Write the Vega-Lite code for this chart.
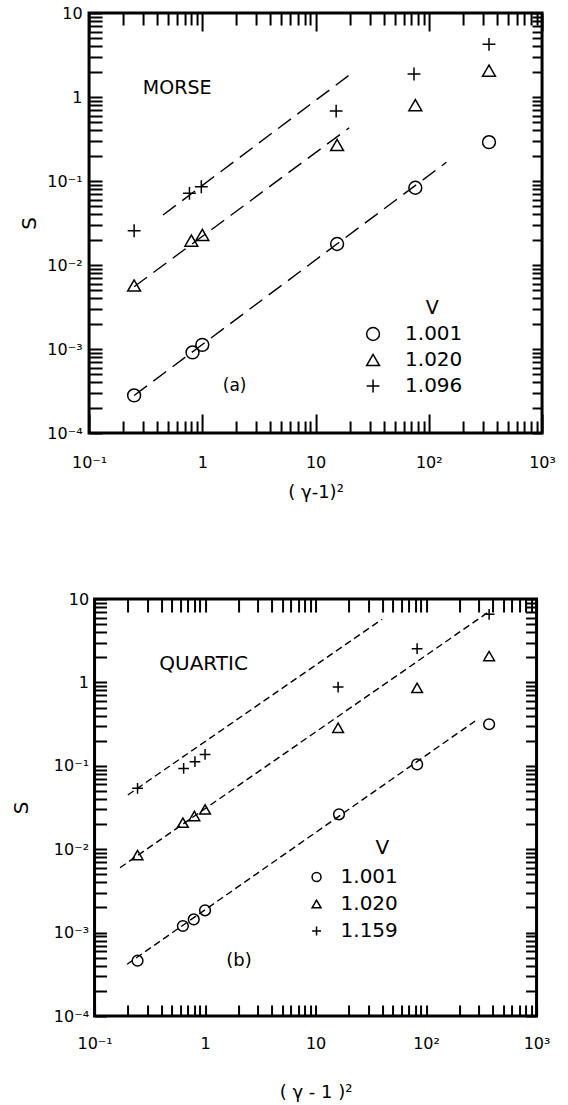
{
  "$schema": "https://vega.github.io/schema/vega-lite/v6.json",
  "background": "white",
  "padding": {"top": 3, "left": 9, "right": 5, "bottom": 0},
  "spacing": 86,
  "columns": 1,
  "align": "each",
  "center": true,
  "config": {
    "font": "DejaVu Sans",
    "view": {"stroke": "black", "strokeWidth": 3},
    "axis": {
      "domain": false,
      "grid": false,
      "zindex": 1,
      "tickColor": "black",
      "tickWidth": 2,
      "labelColor": "black",
      "labelFont": "DejaVu Sans",
      "labelFontSize": 16,
      "labelOverlap": false,
      "labelFlush": false,
      "titleFont": "DejaVu Sans",
      "titleFontSize": 20,
      "titleFontWeight": "normal",
      "titleColor": "black"
    },
    "legend": {
      "padding": 0,
      "labelFont": "DejaVu Sans",
      "labelFontSize": 20,
      "labelColor": "black",
      "symbolStrokeColor": "black",
      "symbolFillColor": "transparent",
      "symbolStrokeWidth": 1.5
    },
    "text": {"font": "DejaVu Sans", "color": "black"}
  },
  "datasets": {
    "morse": [
      {"V": "1.001", "x": 0.25, "S": 0.00028},
      {"V": "1.001", "x": 0.82, "S": 0.00091},
      {"V": "1.001", "x": 1.0, "S": 0.00112},
      {"V": "1.001", "x": 15.5, "S": 0.0178},
      {"V": "1.001", "x": 76, "S": 0.083},
      {"V": "1.001", "x": 340, "S": 0.29},
      {"V": "1.020", "x": 0.25, "S": 0.0057},
      {"V": "1.020", "x": 0.8, "S": 0.0195},
      {"V": "1.020", "x": 1.0, "S": 0.0228},
      {"V": "1.020", "x": 15.5, "S": 0.268},
      {"V": "1.020", "x": 76, "S": 0.8},
      {"V": "1.020", "x": 340, "S": 2.06},
      {"V": "1.096", "x": 0.25, "S": 0.0256},
      {"V": "1.096", "x": 0.77, "S": 0.0713},
      {"V": "1.096", "x": 0.98, "S": 0.0855},
      {"V": "1.096", "x": 15.2, "S": 0.68},
      {"V": "1.096", "x": 74, "S": 1.88},
      {"V": "1.096", "x": 340, "S": 4.24}
    ],
    "morseFits": [
      {"V": "1.001", "x": 0.25, "S": 0.00028},
      {"V": "1.001", "x": 143, "S": 0.167},
      {"V": "1.020", "x": 0.25, "S": 0.0055},
      {"V": "1.020", "x": 19.8, "S": 0.43},
      {"V": "1.096", "x": 0.45, "S": 0.0394},
      {"V": "1.096", "x": 20.9, "S": 1.92}
    ],
    "quartic": [
      {"V": "1.001", "x": 0.245, "S": 0.00046},
      {"V": "1.001", "x": 0.63, "S": 0.0012},
      {"V": "1.001", "x": 0.79, "S": 0.00144},
      {"V": "1.001", "x": 1.0, "S": 0.00185},
      {"V": "1.001", "x": 16.3, "S": 0.0262},
      {"V": "1.001", "x": 83, "S": 0.104},
      {"V": "1.001", "x": 372, "S": 0.315},
      {"V": "1.020", "x": 0.245, "S": 0.0085},
      {"V": "1.020", "x": 0.63, "S": 0.0208},
      {"V": "1.020", "x": 0.8, "S": 0.025},
      {"V": "1.020", "x": 1.0, "S": 0.03},
      {"V": "1.020", "x": 16, "S": 0.286},
      {"V": "1.020", "x": 83, "S": 0.86},
      {"V": "1.020", "x": 372, "S": 2.07},
      {"V": "1.159", "x": 0.245, "S": 0.0537},
      {"V": "1.159", "x": 0.64, "S": 0.093},
      {"V": "1.159", "x": 0.81, "S": 0.112},
      {"V": "1.159", "x": 1.0, "S": 0.137},
      {"V": "1.159", "x": 16, "S": 0.88},
      {"V": "1.159", "x": 83, "S": 2.54},
      {"V": "1.159", "x": 372, "S": 6.56}
    ],
    "quarticFits": [
      {"V": "1.001", "x": 0.197, "S": 0.000417},
      {"V": "1.001", "x": 278, "S": 0.344},
      {"V": "1.020", "x": 0.17, "S": 0.006},
      {"V": "1.020", "x": 379, "S": 7.18},
      {"V": "1.159", "x": 0.2, "S": 0.0447},
      {"V": "1.159", "x": 40, "S": 5.71}
    ],
    "notes": [
      {"panel": "a", "kind": "name", "t": "MORSE", "x": 0.6, "S": 1.28},
      {"panel": "a", "kind": "name", "t": "V", "x": 107, "S": 0.00308},
      {"panel": "a", "kind": "tag", "t": "(a)", "x": 1.93, "S": 0.000363},
      {"panel": "b", "kind": "name", "t": "QUARTIC", "x": 0.97, "S": 1.66},
      {"panel": "b", "kind": "name", "t": "V", "x": 40.3, "S": 0.0104},
      {"panel": "b", "kind": "tag", "t": "(b)", "x": 2.03, "S": 0.000457}
    ]
  },
  "resolve": {
    "scale": {"x": "independent", "y": "independent", "shape": "independent"},
    "legend": {"shape": "independent"}
  },
  "concat": [
    {
      "width": 453,
      "height": 420,
      "resolve": {"axis": {"x": "independent", "y": "independent"}},
      "layer": [
        {
          "data": {"name": "morse"},
          "mark": {"type": "point", "filled": false, "stroke": "black", "strokeWidth": 1.5, "opacity": 1, "size": 165},
          "encoding": {
            "x": {
              "field": "x", "type": "quantitative",
              "scale": {"type": "log", "domain": [0.1, 1000], "nice": false},
              "axis": {
                "orient": "bottom",
                "values": [0.1,0.2,0.3,0.4,0.5,0.6,0.7,0.8,0.9,1,2,3,4,5,6,7,8,9,10,20,30,40,50,60,70,80,90,100,200,300,400,500,600,700,800,900,1000],
                "labelExpr": "datum.value == 0.1 ? '10⁻¹' : datum.value == 1 ? '1' : datum.value == 10 ? '10' : datum.value == 100 ? '10²' : datum.value == 1000 ? '10³' : ''",
                "tickSize": {"condition": {"test": "indexof([0.1, 1, 10, 100, 1000], datum.value) >= 0", "value": -19}, "value": -12},
                "labelPadding": 40,
                "title": "( γ-1)²",
                "titleFontSize": 18,
                "titlePadding": 6
              }
            },
            "y": {
              "field": "S", "type": "quantitative",
              "scale": {"type": "log", "domain": [0.0001, 10], "nice": false},
              "axis": {
                "orient": "left",
                "values": [0.0001,0.0002,0.0003,0.0004,0.0005,0.0006,0.0007,0.0008,0.0009,0.001,0.002,0.003,0.004,0.005,0.006,0.007,0.008,0.009,0.01,0.02,0.03,0.04,0.05,0.06,0.07,0.08,0.09,0.1,0.2,0.3,0.4,0.5,0.6,0.7,0.8,0.9,1,2,3,4,5,6,7,8,9,10],
                "labelExpr": "datum.value == 10 ? '10' : datum.value == 1 ? '1' : datum.value == 0.1 ? '10⁻¹' : datum.value == 0.01 ? '10⁻²' : datum.value == 0.001 ? '10⁻³' : datum.value == 0.0001 ? '10⁻⁴' : ''",
                "tickSize": -13,
                "labelPadding": 20,
                "title": "S",
                "titlePadding": 7
              }
            },
            "shape": {
              "field": "V", "type": "nominal",
              "scale": {"domain": ["1.001", "1.020", "1.096"], "range": ["circle", "triangle-up", "M-1,0H1M0,-1V1"]},
              "legend": {
                "orient": "none", "legendX": 274, "legendY": 311,
                "title": null, "symbolSize": 165, "labelOffset": 22, "rowPadding": 6
              }
            }
          }
        },
        {
          "data": {"name": "morseFits"},
          "mark": {"type": "line", "color": "black", "strokeWidth": 1.4, "strokeDash": [16, 8]},
          "encoding": {
            "x": {
              "field": "x", "type": "quantitative",
              "scale": {"type": "log", "domain": [0.1, 1000], "nice": false},
              "axis": {
                "orient": "top",
                "values": [0.1,0.2,0.3,0.4,0.5,0.6,0.7,0.8,0.9,1,2,3,4,5,6,7,8,9,10,20,30,40,50,60,70,80,90,100,200,300,400,500,600,700,800,900,1000],
                "labels": false,
                "tickSize": {"condition": {"test": "indexof([0.1, 1, 10, 100, 1000], datum.value) >= 0", "value": -18}, "value": -12},
                "title": null
              }
            },
            "y": {
              "field": "S", "type": "quantitative",
              "scale": {"type": "log", "domain": [0.0001, 10], "nice": false},
              "axis": {
                "orient": "right",
                "values": [0.0001,0.0002,0.0003,0.0004,0.0005,0.0006,0.0007,0.0008,0.0009,0.001,0.002,0.003,0.004,0.005,0.006,0.007,0.008,0.009,0.01,0.02,0.03,0.04,0.05,0.06,0.07,0.08,0.09,0.1,0.2,0.3,0.4,0.5,0.6,0.7,0.8,0.9,1,2,3,4,5,6,7,8,9,10],
                "labels": false,
                "tickSize": -10,
                "title": null
              }
            },
            "detail": {"field": "V", "type": "nominal"}
          }
        },
        {
          "data": {"name": "notes"},
          "transform": [{"filter": "datum.panel == 'a' && datum.kind == 'name'"}],
          "mark": {"type": "text", "fontSize": 19, "align": "center", "baseline": "middle"},
          "encoding": {
            "x": {"field": "x", "type": "quantitative", "scale": {"type": "log", "domain": [0.1, 1000], "nice": false}, "axis": null},
            "y": {"field": "S", "type": "quantitative", "scale": {"type": "log", "domain": [0.0001, 10], "nice": false}, "axis": null},
            "text": {"field": "t"}
          }
        },
        {
          "data": {"name": "notes"},
          "transform": [{"filter": "datum.panel == 'a' && datum.kind == 'tag'"}],
          "mark": {"type": "text", "fontSize": 17, "align": "center", "baseline": "middle"},
          "encoding": {
            "x": {"field": "x", "type": "quantitative", "scale": {"type": "log", "domain": [0.1, 1000], "nice": false}, "axis": null},
            "y": {"field": "S", "type": "quantitative", "scale": {"type": "log", "domain": [0.0001, 10], "nice": false}, "axis": null},
            "text": {"field": "t"}
          }
        }
      ]
    },
    {
      "width": 442,
      "height": 417,
      "resolve": {"axis": {"x": "independent", "y": "independent"}},
      "layer": [
        {
          "data": {"name": "quartic"},
          "mark": {"type": "point", "filled": false, "stroke": "black", "strokeWidth": 1.5, "opacity": 1, "size": 115},
          "encoding": {
            "x": {
              "field": "x", "type": "quantitative",
              "scale": {"type": "log", "domain": [0.1, 1000], "nice": false},
              "axis": {
                "orient": "bottom",
                "offset": -11,
                "values": [0.1,0.2,0.3,0.4,0.5,0.6,0.7,0.8,0.9,1,2,3,4,5,6,7,8,9,10,20,30,40,50,60,70,80,90,100,200,300,400,500,600,700,800,900,1000],
                "labelExpr": "datum.value == 0.1 ? '10⁻¹' : datum.value == 1 ? '1' : datum.value == 10 ? '10' : datum.value == 100 ? '10²' : datum.value == 1000 ? '10³' : ''",
                "tickSize": 11,
                "labelPadding": 19,
                "title": "( γ - 1 )²",
                "titleFontSize": 18,
                "titlePadding": 32
              }
            },
            "y": {
              "field": "S", "type": "quantitative",
              "scale": {"type": "log", "domain": [0.0001, 10], "nice": false},
              "axis": {
                "orient": "left",
                "offset": -12,
                "values": [0.0001,0.0002,0.0003,0.0004,0.0005,0.0006,0.0007,0.0008,0.0009,0.001,0.002,0.003,0.004,0.005,0.006,0.007,0.008,0.009,0.01,0.02,0.03,0.04,0.05,0.06,0.07,0.08,0.09,0.1,0.2,0.3,0.4,0.5,0.6,0.7,0.8,0.9,1,2,3,4,5,6,7,8,9,10],
                "labelExpr": "datum.value == 10 ? '10' : datum.value == 1 ? '1' : datum.value == 0.1 ? '10⁻¹' : datum.value == 0.01 ? '10⁻²' : datum.value == 0.001 ? '10⁻³' : datum.value == 0.0001 ? '10⁻⁴' : ''",
                "tickSize": 12,
                "labelPadding": 6,
                "title": "S",
                "titlePadding": 22
              }
            },
            "shape": {
              "field": "V", "type": "nominal",
              "scale": {"domain": ["1.001", "1.020", "1.159"], "range": ["circle", "triangle-up", "M-1,0H1M0,-1V1"]},
              "legend": {
                "orient": "none", "legendX": 212, "legendY": 268,
                "title": null, "symbolSize": 80, "labelOffset": 14, "rowPadding": 7
              }
            }
          }
        },
        {
          "data": {"name": "quarticFits"},
          "mark": {"type": "line", "color": "black", "strokeWidth": 1.4, "strokeDash": [7, 4]},
          "encoding": {
            "x": {
              "field": "x", "type": "quantitative",
              "scale": {"type": "log", "domain": [0.1, 1000], "nice": false},
              "axis": {
                "orient": "top",
                "offset": -13,
                "values": [0.1,0.2,0.3,0.4,0.5,0.6,0.7,0.8,0.9,1,2,3,4,5,6,7,8,9,10,20,30,40,50,60,70,80,90,100,200,300,400,500,600,700,800,900,1000],
                "labels": false,
                "tickSize": 13,
                "title": null
              }
            },
            "y": {
              "field": "S", "type": "quantitative",
              "scale": {"type": "log", "domain": [0.0001, 10], "nice": false},
              "axis": {
                "orient": "right",
                "offset": -11,
                "values": [0.0001,0.0002,0.0003,0.0004,0.0005,0.0006,0.0007,0.0008,0.0009,0.001,0.002,0.003,0.004,0.005,0.006,0.007,0.008,0.009,0.01,0.02,0.03,0.04,0.05,0.06,0.07,0.08,0.09,0.1,0.2,0.3,0.4,0.5,0.6,0.7,0.8,0.9,1,2,3,4,5,6,7,8,9,10],
                "labels": false,
                "tickSize": 11,
                "title": null
              }
            },
            "detail": {"field": "V", "type": "nominal"}
          }
        },
        {
          "data": {"name": "notes"},
          "transform": [{"filter": "datum.panel == 'b' && datum.kind == 'name'"}],
          "mark": {"type": "text", "fontSize": 20, "align": "center", "baseline": "middle"},
          "encoding": {
            "x": {"field": "x", "type": "quantitative", "scale": {"type": "log", "domain": [0.1, 1000], "nice": false}, "axis": null},
            "y": {"field": "S", "type": "quantitative", "scale": {"type": "log", "domain": [0.0001, 10], "nice": false}, "axis": null},
            "text": {"field": "t"}
          }
        },
        {
          "data": {"name": "notes"},
          "transform": [{"filter": "datum.panel == 'b' && datum.kind == 'tag'"}],
          "mark": {"type": "text", "fontSize": 18, "align": "center", "baseline": "middle"},
          "encoding": {
            "x": {"field": "x", "type": "quantitative", "scale": {"type": "log", "domain": [0.1, 1000], "nice": false}, "axis": null},
            "y": {"field": "S", "type": "quantitative", "scale": {"type": "log", "domain": [0.0001, 10], "nice": false}, "axis": null},
            "text": {"field": "t"}
          }
        }
      ]
    }
  ]
}
